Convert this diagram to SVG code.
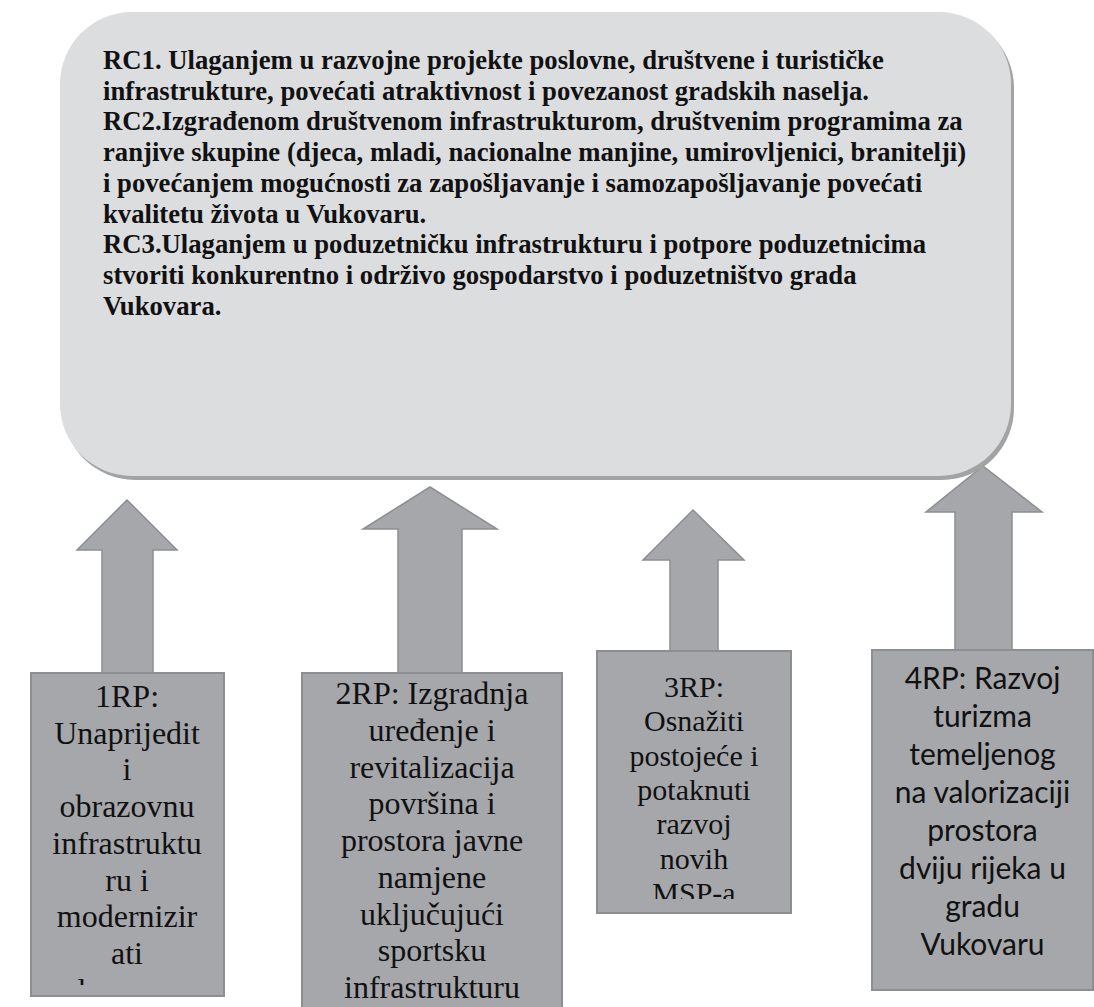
<svg xmlns="http://www.w3.org/2000/svg" width="1094" height="1007" viewBox="0 0 1094 1007">
<style>
.arrow{fill:#a6a7ab;stroke:#8d8e92;stroke-width:1.5}
.box{fill:#a6a7ab;stroke:#8d8e92;stroke-width:2}
.top{font-family:"Liberation Serif","Times New Roman",serif;font-weight:bold;font-size:26.7px;fill:#111}
.tms{font-family:"Liberation Serif","Times New Roman",serif;font-size:32px;fill:#111;text-anchor:middle}
.tms3{font-family:"Liberation Serif","Times New Roman",serif;font-size:30px;fill:#111;text-anchor:middle}
.cal{font-family:Lato,"Open Sans",sans-serif;font-size:30px;fill:#111;text-anchor:middle}
</style>
<defs>
<clipPath id="c1"><rect x="31" y="673" width="193" height="312"/></clipPath>
<clipPath id="c3"><rect x="597" y="651" width="194" height="248"/></clipPath>
</defs>
<rect width="1094" height="1007" fill="#fff"/>
<g id="connectors">
<polygon class="arrow" points="127,500 177,550 153,550 153,674 102,674 102,550 77,550"/>
<polygon class="arrow" points="430,487 497,529 462,529 462,674 398,674 398,529 363,529"/>
<polygon class="arrow" points="693,510 744,560 718,560 718,652 670,652 670,560 643,560"/>
<polygon class="arrow" points="983,466 1042,512 1012,512 1012,651 955,651 955,512 926,512"/>
</g>
<g id="goals">
<rect x="63" y="16" width="951" height="464" rx="72" fill="#a3a3a5"/>
<rect x="60" y="12" width="951" height="464" rx="72" fill="#dcdddf"/>
<text class="top" x="103" y="69">RC1. Ulaganjem u razvojne projekte poslovne, društvene i turističke</text>
<text class="top" x="103" y="99.7">infrastrukture, povećati atraktivnost i povezanost gradskih naselja.</text>
<text class="top" x="103" y="130.4">RC2.Izgrađenom društvenom infrastrukturom, društvenim programima za</text>
<text class="top" x="103" y="161.1">ranjive skupine (djeca, mladi, nacionalne manjine, umirovljenici, branitelji)</text>
<text class="top" x="103" y="191.8">i povećanjem mogućnosti za zapošljavanje i samozapošljavanje povećati</text>
<text class="top" x="103" y="222.5">kvalitetu života u Vukovaru.</text>
<text class="top" x="103" y="253.2">RC3.Ulaganjem u poduzetničku infrastrukturu i potpore poduzetnicima</text>
<text class="top" x="103" y="283.9">stvoriti konkurentno i održivo gospodarstvo i poduzetništvo grada</text>
<text class="top" x="103" y="314.6">Vukovara.</text>
</g>
<g id="rp1">
<rect class="box" x="31" y="673" width="193" height="323"/>
<g clip-path="url(#c1)">
<text class="tms" x="127" y="707">1RP:</text>
<text class="tms" x="127" y="743.7">Unaprijedit</text>
<text class="tms" x="127" y="780.4">i</text>
<text class="tms" x="127" y="817.1">obrazovnu</text>
<text class="tms" x="127" y="853.8">infrastruktu</text>
<text class="tms" x="127" y="890.5">ru i</text>
<text class="tms" x="127" y="927.2">modernizir</text>
<text class="tms" x="127" y="963.9">ati</text>
<text class="tms" x="82" y="1000.6">l</text>
</g>
</g>
<g id="rp2">
<rect class="box" x="302" y="673" width="260" height="345"/>
<text class="tms" x="432" y="704">2RP: Izgradnja</text>
<text class="tms" x="432" y="740.75">uređenje i</text>
<text class="tms" x="432" y="777.5">revitalizacija</text>
<text class="tms" x="432" y="814.25">površina i</text>
<text class="tms" x="432" y="851">prostora javne</text>
<text class="tms" x="432" y="887.75">namjene</text>
<text class="tms" x="432" y="924.5">uključujući</text>
<text class="tms" x="432" y="961.25">sportsku</text>
<text class="tms" x="432" y="998">infrastrukturu</text>
</g>
<g id="rp3">
<rect class="box" x="597" y="651" width="194" height="262"/>
<g clip-path="url(#c3)">
<text class="tms3" x="694" y="697">3RP:</text>
<text class="tms3" x="694" y="731.3">Osnažiti</text>
<text class="tms3" x="694" y="765.6">postojeće i</text>
<text class="tms3" x="694" y="799.9">potaknuti</text>
<text class="tms3" x="694" y="834.2">razvoj</text>
<text class="tms3" x="694" y="868.5">novih</text>
<text class="tms3" x="694" y="902.8">MSP-a</text>
</g>
</g>
<g id="rp4">
<rect class="box" x="872" y="650" width="221" height="340"/>
<text class="cal" x="982.5" y="689">4RP: Razvoj</text>
<text class="cal" x="982.5" y="727">turizma</text>
<text class="cal" x="982.5" y="765">temeljenog</text>
<text class="cal" x="982.5" y="803">na valorizaciji</text>
<text class="cal" x="982.5" y="841">prostora</text>
<text class="cal" x="982.5" y="879">dviju rijeka u</text>
<text class="cal" x="982.5" y="917">gradu</text>
<text class="cal" x="982.5" y="955">Vukovaru</text>
</g>
</svg>
